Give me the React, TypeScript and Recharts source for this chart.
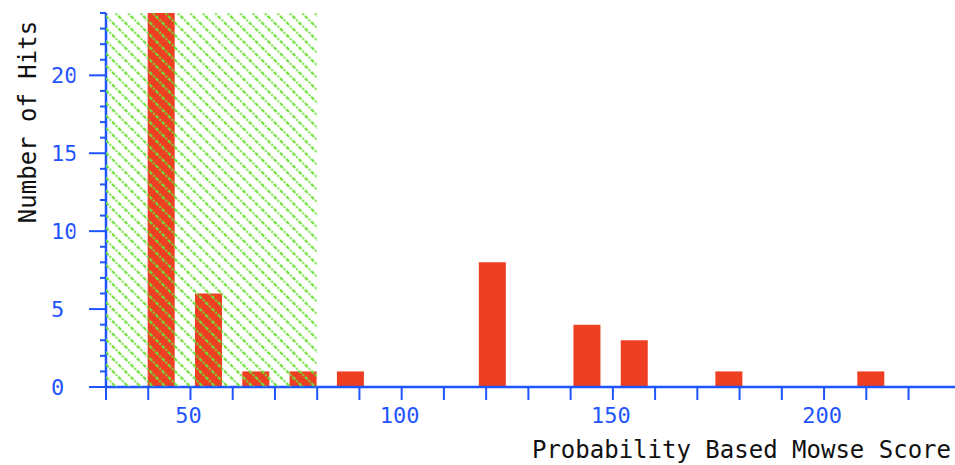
import React from 'react';
import { ComposedChart, Bar, XAxis, YAxis, ReferenceArea } from 'recharts';

// Histogram bins (lower edge of each score bin) and number of hits
const binStarts = [40, 51.2, 62.4, 73.6, 84.8, 96, 107.2, 118.4, 129.6, 140.8, 152, 163.2, 174.4, 185.6, 196.8, 208];
const hits = [24, 6, 1, 1, 1, 0, 0, 8, 0, 4, 3, 0, 1, 0, 0, 1];

const xTicks = [30, 40, 50, 60, 70, 80, 90, 100, 110, 120, 130, 140, 150, 160, 170, 180, 190, 200, 210, 220];
const xLabelTicks = [50, 100, 150, 200];
const yTicks = [0, 1, 2, 3, 4, 5, 6, 7, 8, 9, 10, 11, 12, 13, 14, 15, 16, 17, 18, 19, 20, 21, 22, 23, 24];
const yLabelTicks = [0, 5, 10, 15, 20];

const thresholdRange = [30, 80];

const BAR_HALF_UNITS = 3.1;
const data = binStarts.map((s, i) => ({ x: s + BAR_HALF_UNITS, hits: hits[i] }));

const BLUE = '#1f55ff';
const FONT = '"DejaVu Sans Mono", "Liberation Mono", monospace';

const XTick = (props: any) => {
  const { x, y, payload } = props;
  const v = payload.value;
  return (
    <g>
      <line x1={x} x2={x} y1={y} y2={y + 13} stroke={BLUE} strokeWidth={2} />
      {xLabelTicks.includes(v) && (
        <text x={x - 2} y={y + 36} textAnchor="middle" fill={BLUE} fontFamily={FONT} fontSize={22}>
          {v}
        </text>
      )}
    </g>
  );
};

const YTick = (props: any) => {
  const { x, y, payload } = props;
  const v = payload.value;
  const major = yLabelTicks.includes(v);
  return (
    <g>
      <line x1={x - (major ? 17 : 6)} x2={x} y1={y} y2={y} stroke={BLUE} strokeWidth={2} />
      {major && (
        <text
          x={x - 55}
          y={y + 8}
          textAnchor="start"
          fill={BLUE}
          fontFamily={FONT}
          fontSize={22}
          clipPath="url(#ylabclip)"
        >
          {v}
        </text>
      )}
    </g>
  );
};

export default function App() {
  return (
    <div style={{ position: 'absolute', left: 0, top: 0, width: 955, height: 465, background: '#fff' }}>
      <svg width={0} height={0} style={{ position: 'absolute' }}>
        <defs>
          <pattern id="hatch" patternUnits="userSpaceOnUse" width={8.8} height={8.8} patternTransform="rotate(-45)">
            <line x1={2} y1={0} x2={2} y2={8.8} stroke="#6ee03a" strokeWidth={2.2} strokeDasharray="2 1.4" />
          </pattern>
          <clipPath id="ylabclip" clipPathUnits="userSpaceOnUse">
            <rect x={0} y={0} width={75.5} height={465} />
          </clipPath>
        </defs>
      </svg>
      <ComposedChart width={955} height={465} data={data} margin={{ top: 13, right: 0, bottom: 0, left: 0 }}>
        <XAxis
          dataKey="x"
          type="number"
          domain={[30, 231]}
          allowDataOverflow
          ticks={xTicks}
          interval={0}
          tickSize={0}
          tickMargin={0}
          height={78}
          axisLine={{ stroke: BLUE, strokeWidth: 2.5 }}
          tickLine={false}
          tick={<XTick />}
          label={{
            content: (p: any) => {
              const vb = p.viewBox;
              return (
                <text x={vb.x + vb.width - 4} y={458} textAnchor="end" fill="#111" fontFamily={FONT} fontSize={24}>
                  Probability Based Mowse Score
                </text>
              );
            },
          }}
        />
        <YAxis
          type="number"
          domain={[0, 24]}
          allowDataOverflow
          ticks={yTicks}
          interval={0}
          tickSize={0}
          tickMargin={0}
          width={106}
          axisLine={{ stroke: BLUE, strokeWidth: 2.5 }}
          tickLine={false}
          tick={<YTick />}
          label={{
            content: () => (
              <text
                x={36}
                y={122}
                transform="rotate(-90, 36, 122)"
                textAnchor="middle"
                fill="#111"
                fontFamily={FONT}
                fontSize={24}
              >
                Number of Hits
              </text>
            ),
          }}
        />
        <Bar dataKey="hits" fill="#ee3f22" barSize={27} isAnimationActive={false} />
        <ReferenceArea
          x1={thresholdRange[0]}
          x2={thresholdRange[1]}
          y1={0}
          y2={24}
          fill="url(#hatch)"
          fillOpacity={1}
          stroke="none"
          ifOverflow="hidden"
          zIndex={2000}
        />
      </ComposedChart>
    </div>
  );
}
